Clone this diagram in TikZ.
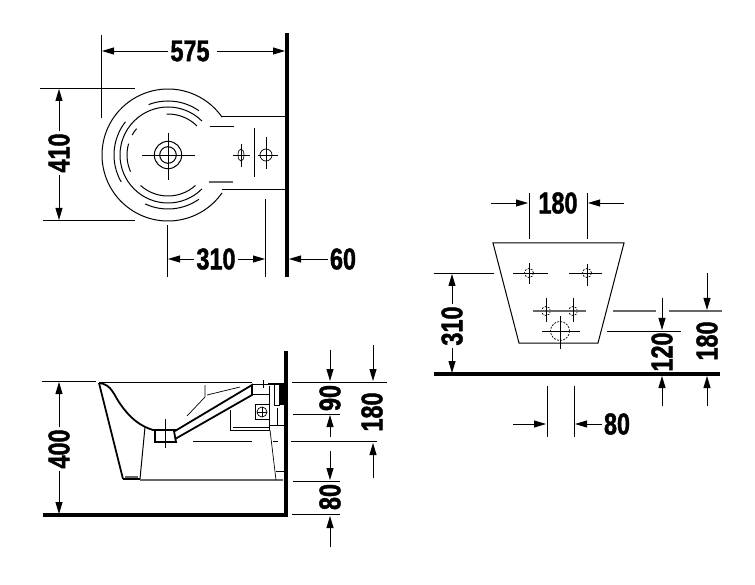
\documentclass[tikz,border=0pt]{standalone}
\usepackage{fontspec}
\newfontfamily\dimfont{Liberation Sans}[FakeStretch=0.78,BoldFeatures={FakeBold=1.4}]
\usetikzlibrary{arrows.meta}
\tikzset{
    outline/.style={draw, black, line width=1pt},
    heavy/.style={draw, black, line width=1.8pt},
    hair/.style={draw, black, line width=0.7pt},
    faint/.style={draw, black!60, line width=1.2pt},
    hidden/.style={draw, black, line width=0.7pt, dash pattern=on 2pt off 1.2pt},
    wall/.style={draw, black, line width=3.5pt},
    extline/.style={draw, black, line width=0.9pt},
    dimarrow/.style={draw, black, line width=0.9pt, -{Triangle[length=12pt,width=7pt]}},
    dimtext/.style={font=\fontsize{30}{30}\dimfont\bfseries, inner sep=2pt},
    dimtextv/.style={dimtext, rotate=90}
}
\begin{document}
\begin{tikzpicture}[x=1pt,y=1pt,yscale=-1]
	\useasboundingbox (0,0) rectangle (755,585);
	% top view
	\coordinate (basin) at (168,155);
	\draw[wall] (287,33) -- (287,277);
	\draw[outline] (222,117) -- (287,117);
	\draw[outline] (222,190) -- (287,190);
	\draw[outline] ([shift={(35:66)}]basin) arc (35:325:66);
	\foreach \rad/\from/\to in {54/249/305, 54/150/218, 54/55/115, 48/45/315, 41/268/315, 41/156/196, 41/209/220, 41/48/132}
		\draw[outline] ([shift={(\from:\rad)}]basin) arc (\from:\to:\rad);
	\draw[outline] (basin) circle (13.7);
	\draw[outline] (basin) circle (8.3);
	\draw[hair] (142,155) -- (195,155);
	\draw[hair] (168,133) -- (168,180);
	\draw[outline] (210,127) -- (234,127);
	\draw[faint] (209,182) -- (233,182);
	\draw[outline] (254,128) -- (254,177);
	\draw[hair] (241,155) ellipse (3 and 6);
	\draw[hair] (233,155) -- (250,155);
	\draw[hair] (241,144) -- (241,167);
	\draw[hair] (266,155) circle (6);
	\draw[hair] (258,155) -- (278,155);
	\draw[hair] (266,137) -- (266,169);
	% top view dimensions
	\draw[extline] (101,35) -- (101,118);
	\draw[extline] (40,88) -- (135,88);
	\draw[extline] (43,220) -- (135,220);
	\draw[extline] (167,225) -- (167,277);
	\draw[extline] (265,199) -- (265,277);
	\node[dimtext] (w575) at (190,51) {575};
	\node[dimtextv] (h410) at (59,153) {410};
	\node[dimtext] (w310) at (216,259) {310};
	\node[dimtext] (w60) at (343,259) {60};
	\coordinate (w575a) at (102,51);
	\coordinate (w575b) at (285,51);
	\coordinate (h410a) at (59,89);
	\coordinate (h410b) at (59,220);
	\coordinate (w310a) at (168,259);
	\coordinate (w310b) at (265,259);
	\coordinate (w60a) at (289,259);
	\draw[dimarrow] (w575) -- (w575a);
	\draw[dimarrow, shorten <=5pt] (w575) -- (w575b);
	\draw[dimarrow] (h410) -- (h410a);
	\draw[dimarrow] (h410) -- (h410b);
	\draw[dimarrow] (w310) -- (w310a);
	\draw[dimarrow] (w310) -- (w310b);
	\draw[dimarrow] (w60) -- (w60a);
	% side view
	\draw[wall] (286,351) -- (286,517);
	\draw[wall] (43,515) -- (288,515);
	\draw[outline] (99,382) -- (252,382);
	\draw[heavy] (99,383) -- (123,479);
	\draw[outline] (145,427) -- (140,479);
	\draw[heavy] (123,479) -- (140,479);
	\draw[faint] (125,477) -- (138,477);
	\draw[heavy] (99,383) .. controls (112,384) and (114,396) .. (121,405) .. controls (130,418) and (140,426) .. (153,430);
	\draw[heavy] (153,430) -- (176,430);
	\draw[heavy] (155,430) -- (155,442) -- (176,442) -- (174,431);
	\draw[hair] (165,419) -- (165,448);
	\draw[heavy] (175,431) -- (252,385) -- (252,395) -- (175,439);
	\draw[hair] (207,395) -- (240,387);
	\draw[hair] (205,385) -- (205,397) -- (187,416);
	\draw[faint] (140,480) -- (283,480);
	\draw[hair] (193,441) -- (252,441);
	\draw[hair] (273,441) -- (278,441);
	\draw[outline] (252,384) -- (268,384);
	\draw[heavy] (268,384) -- (285,384);
	\draw[hair] (263,380) -- (263,388);
	\draw[outline] (230,410) -- (230,430) -- (269,430) -- (269,386);
	\draw[hair] (233,427) -- (269,427);
	\draw[hair] (253,394) -- (269,394);
	\draw[outline] (255,404) rectangle (269,419);
	\draw[hair] (262,412) circle (5);
	\draw[hair] (257,412) -- (267,412);
	\draw[hair] (262,407) -- (262,417);
	\draw[hair] (274,385) -- (274,405) -- (279,405) -- (279,385);
	\fill[black] (280,385) rectangle (284,405);
	\draw[hair] (270,425) -- (277,425) -- (277,408);
	\draw[hair] (277,425) -- (284,425);
	\draw[hair] (270,430) -- (276,480);
	\draw[hair] (276,471) -- (284,471);
	% side view dimensions
	\draw[extline] (42,381) -- (96,381);
	\draw[extline] (292,382) -- (387,382);
	\draw[extline] (293,414) -- (340,414);
	\draw[extline] (291,441) -- (377,441);
	\draw[extline] (293,481) -- (340,481);
	\draw[extline] (292,514) -- (340,514);
	\node[dimtextv] (h400) at (59,449) {400};
	\node[dimtextv] (h90) at (330,398) {90};
	\node[dimtextv] (h80) at (330,497) {80};
	\node[dimtextv] (h180) at (372,412) {180};
	\coordinate (h400a) at (59,382);
	\coordinate (h400b) at (59,514);
	\coordinate (h90t) at (330,350);
	\coordinate (h90a) at (330,381);
	\coordinate (h90l) at (330,437);
	\coordinate (h90b) at (330,415);
	\coordinate (h80t) at (330,451);
	\coordinate (h80a) at (330,480);
	\coordinate (h80l) at (330,547);
	\coordinate (h80b) at (330,516);
	\coordinate (h180t) at (373,345);
	\coordinate (h180a) at (373,381);
	\coordinate (h180l) at (373,478);
	\coordinate (h180b) at (373,443);
	\draw[dimarrow] (h400) -- (h400a);
	\draw[dimarrow] (h400) -- (h400b);
	\draw[dimarrow] (h90t) -- (h90a);
	\draw[dimarrow] (h90l) -- (h90b);
	\draw[dimarrow] (h80t) -- (h80a);
	\draw[dimarrow] (h80l) -- (h80b);
	\draw[dimarrow] (h180t) -- (h180a);
	\draw[dimarrow] (h180l) -- (h180b);
	% back view
	\draw[outline] (493,243) -- (624,243) -- (598,343) -- (519,343) -- cycle;
	\draw[wall] (434,374) -- (720,374);
	\foreach \cx/\cy in {529/273, 587/273, 546/311, 573/311}
		\draw[hidden] (\cx,\cy) circle (4.5);
	\draw[hidden] (560,331) circle (9.5);
	\draw[hair] (513,273) -- (548,273);
	\draw[outline] (529,263) -- (529,284);
	\draw[hair] (569,273) -- (602,273);
	\draw[outline] (587,264) -- (587,286);
	\draw[faint] (533,311) -- (586,311);
	\draw[outline] (546,298) -- (546,322);
	\draw[outline] (573,298) -- (573,322);
	\draw[hair] (542,331) -- (580,331);
	\draw[hair] (560,316) -- (560,349);
	% back view dimensions
	\draw[extline] (529,193) -- (529,239);
	\draw[extline] (587,193) -- (587,239);
	\draw[extline] (434,273) -- (494,273);
	\draw[faint] (613,311) -- (656,311);
	\draw[faint] (669,311) -- (722,311);
	\draw[extline] (607,331) -- (681,331);
	\draw[extline] (547,386) -- (547,437);
	\draw[extline] (574,386) -- (574,437);
	\node[dimtext] (w180) at (558,203) {180};
	\node[dimtextv] (h310) at (452,326) {310};
	\node[dimtextv] (h120) at (662,352) {120};
	\node[dimtextv] (h180r) at (707,341) {180};
	\node[dimtext] (w80) at (617,424) {80};
	\coordinate (w180l) at (491,203);
	\coordinate (w180a) at (528,203);
	\coordinate (w180r) at (624,203);
	\coordinate (w180b) at (588,203);
	\coordinate (h310a) at (452,274);
	\coordinate (h310b) at (452,373);
	\coordinate (h120t) at (662,298);
	\coordinate (h120a) at (662,330);
	\coordinate (h120l) at (662,406);
	\coordinate (h120b) at (662,376);
	\coordinate (h180rt) at (707,273);
	\coordinate (h180ra) at (707,310);
	\coordinate (h180rl) at (707,406);
	\coordinate (h180rb) at (707,376);
	\coordinate (w80l) at (513,424);
	\coordinate (w80a) at (546,424);
	\coordinate (w80b) at (575,424);
	\draw[dimarrow] (w180l) -- (w180a);
	\draw[dimarrow] (w180r) -- (w180b);
	\draw[dimarrow] (h310) -- (h310a);
	\draw[dimarrow] (h310) -- (h310b);
	\draw[dimarrow] (h120t) -- (h120a);
	\draw[dimarrow] (h120l) -- (h120b);
	\draw[dimarrow] (h180rt) -- (h180ra);
	\draw[dimarrow] (h180rl) -- (h180rb);
	\draw[dimarrow] (w80l) -- (w80a);
	\draw[dimarrow] (w80) -- (w80b);
\end{tikzpicture}
\end{document}
